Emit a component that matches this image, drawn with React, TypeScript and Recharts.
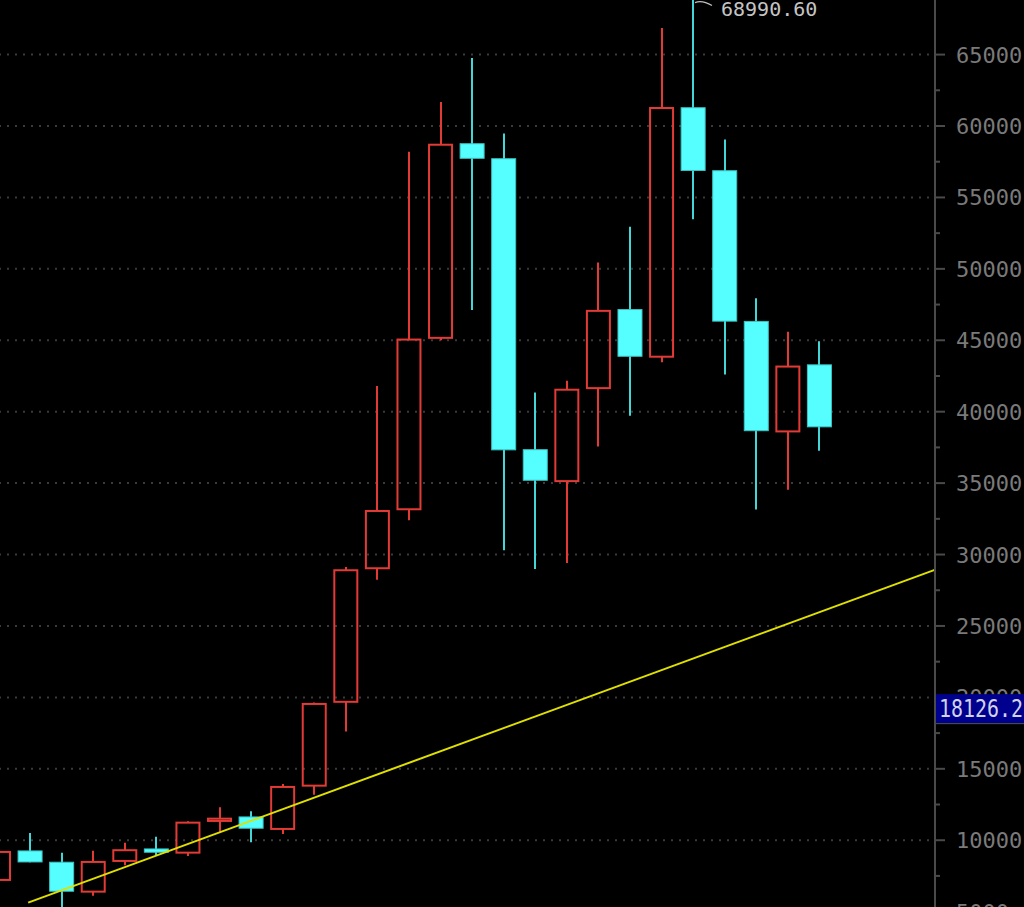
import { Bar, CartesianGrid, ComposedChart, ReferenceLine, XAxis, YAxis } from "recharts";

// Monthly candles, Jan 2020 .. Mar 2022.
const months = [
  "2020-01", "2020-02", "2020-03", "2020-04", "2020-05", "2020-06", "2020-07", "2020-08", "2020-09",
  "2020-10", "2020-11", "2020-12", "2021-01", "2021-02", "2021-03", "2021-04", "2021-05", "2021-06",
  "2021-07", "2021-08", "2021-09", "2021-10", "2021-11", "2021-12", "2022-01", "2022-02", "2022-03",
];
const opens = [
  7150, 9250, 8460, 6330, 8480, 9390, 9060, 11280, 11630, 10720, 13750, 19620, 28970, 33100,
  45100, 58760, 57710, 37340, 35070, 41580, 47150, 43780, 61280, 56870, 46320, 38550, 43280,
];
const highs = [
  9320, 10510, 9130, 9270, 9830, 10250, 11330, 12310, 12030, 13940, 19650, 29120, 41800, 58200,
  61680, 64760, 59470, 41340, 42160, 50450, 52940, 66870, 68990.6, 59050, 47940, 45600, 44930,
];
const lows = [
  6870, 8460, 3850, 6120, 8250, 8970, 8900, 10600, 9860, 10440, 13190, 17620, 28240, 32400,
  45000, 47120, 30300, 28980, 29400, 37570, 39720, 43460, 53480, 42610, 33150, 34540, 37270,
];
const closes = [
  9250, 8480, 6430, 8550, 9370, 9160, 11300, 11580, 10840, 13800, 19610, 28970, 33120, 45120,
  58760, 57740, 37330, 35200, 41610, 47130, 43880, 61330, 56890, 46340, 38670, 43230, 38940,
];

const axisTicks = [
  5000, 7500, 10000, 12500, 15000, 17500, 20000, 22500, 25000, 27500, 30000, 32500, 35000,
  37500, 40000, 42500, 45000, 47500, 50000, 52500, 55000, 57500, 60000, 62500, 65000,
];
const gridValues = [5000, 10000, 15000, 20000, 25000, 30000, 35000, 40000, 45000, 50000, 55000, 60000, 65000];
const yDomain = [5325, 68822];

// trend line: two anchor points (slot position, price)
const trendSlots = [0.93, 29.64];
const trendPrices = [5630, 28930];
const cursorPrice = 18126.2;

const data = months.map((month, i) => ({
  month,
  slot: i,
  open: opens[i],
  high: highs[i],
  low: lows[i],
  close: closes[i],
}));
const maxHigh = Math.max(...highs);

const RED = "#e23b36";
const CYAN = "#55ffff";
const CYAN_WICK = "#44d6d6";
const MONO = "'DejaVu Sans Mono', 'Liberation Mono', monospace";

function Candle(props: any) {
  const { x, y, width, height, payload } = props;
  const { open, close, high, low } = payload;
  const top = Math.max(open, close);
  const bottom = Math.min(open, close);
  // body pixels come from the bar's own scale; wicks extend it linearly
  const perUnit = height / (top - bottom);
  const py = (v: number) => y + (top - v) * perUnit;
  const cx = Math.round(x + width / 2);
  const up = close >= open;
  const yHigh = py(high);
  const yLow = py(low);
  return (
    <g>
      {up ? (
        <g>
          <line x1={cx} x2={cx} y1={yHigh} y2={y + 1} stroke={RED} strokeWidth={2} />
          <line x1={cx} x2={cx} y1={y + height - 1} y2={yLow} stroke={RED} strokeWidth={2} />
          <rect x={x + 1} y={y + 1} width={width - 2} height={Math.max(height - 2, 0.5)} fill="none" stroke={RED} strokeWidth={2} />
        </g>
      ) : (
        <g>
          <line x1={cx} x2={cx} y1={yHigh} y2={yLow} stroke={CYAN_WICK} strokeWidth={2} />
          <rect x={x + 0.5} y={y} width={width - 1} height={Math.max(height, 1)} fill={CYAN} stroke="#3cc4c4" strokeWidth={1} />
        </g>
      )}
      {high === maxHigh && (
        <g>
          <path d={`M${cx + 2},${yHigh + 5} Q${cx + 9},${yHigh + 2} ${cx + 19},${yHigh + 8}`} fill="none" stroke="#c0c0c0" strokeWidth={1.2} />
          <text x={cx + 28} y={yHigh + 18.5} fontFamily={MONO} fontSize={20} fill="#c4c4c4">
            {high.toFixed(2)}
          </text>
        </g>
      )}
    </g>
  );
}

function AxisTick(props: any) {
  const { x, y, payload } = props;
  const major = payload.value % 5000 === 0;
  return (
    <g>
      <line x1={x - 21} x2={x - 21 + (major ? 10 : 5)} y1={y} y2={y} stroke="#4a4a4a" strokeWidth={2} />
      {major && (
        <text x={x} y={y + 8} fontFamily={MONO} fontSize={22} fill="#7a7a7a">
          {payload.value}
        </text>
      )}
    </g>
  );
}

// price box sitting on the right axis, drawn as the single tick of a mirrored axis
function CursorTick(props: any) {
  const { x, y } = props;
  const left = x + 1;
  const bottom = y - 1;
  return (
    <g>
      <rect x={left} y={bottom - 29} width={100} height={29} fill="#00008e" />
      <line x1={left} x2={left + 100} y1={bottom + 0.5} y2={bottom + 0.5} stroke="#555" strokeWidth={1} />
      <text x={left + 3} y={bottom - 6} fontFamily={MONO} fontSize={24} fill="#d2d2ea" textLength={84} lengthAdjust="spacingAndGlyphs">
        {cursorPrice.toFixed(1)}
      </text>
    </g>
  );
}

export default function App() {
  return (
    <div style={{ position: "absolute", left: 0, top: 0, width: 1024, height: 907, overflow: "hidden", background: "#000" }}>
      <div style={{ position: "absolute", left: -17, top: 0 }}>
        <ComposedChart width={1041} height={907} data={data} margin={{ top: 0, right: 0, bottom: 0, left: 0 }}>
          <XAxis dataKey="month" hide padding={{ left: 0, right: 99.5 }} />
          <XAxis xAxisId="t" dataKey="slot" type="number" domain={[-0.5, 29.65]} hide allowDataOverflow />
          <YAxis
            orientation="right"
            width={89}
            type="number"
            domain={yDomain}
            allowDataOverflow
            ticks={axisTicks}
            interval={0}
            tickSize={10}
            tickMargin={11}
            tickLine={false}
            axisLine={{ stroke: "#4a4a4a", strokeWidth: 2 }}
            tick={(p: any) => <AxisTick {...p} />}
          />
          <YAxis
            yAxisId="cursor"
            dataKey="close"
            orientation="right"
            mirror
            type="number"
            domain={yDomain}
            allowDataOverflow
            ticks={[cursorPrice]}
            interval={0}
            tickSize={0}
            tickMargin={0}
            tickLine={false}
            axisLine={false}
            tick={(p: any) => <CursorTick {...p} />}
          />
          <CartesianGrid horizontal vertical={false} horizontalValues={gridValues} stroke="#3a3a3a" strokeWidth={2} strokeDasharray="2 6" />
          <Bar
            dataKey={(d: any) => [Math.min(d.open, d.close), Math.max(d.open, d.close)]}
            barSize={25}
            shape={(p: any) => <Candle {...p} />}
            isAnimationActive={false}
          />
          <ReferenceLine
            xAxisId="t"
            segment={[
              { x: trendSlots[0], y: trendPrices[0] },
              { x: trendSlots[1], y: trendPrices[1] },
            ]}
            stroke="#e0e000"
            strokeWidth={2}
            ifOverflow="visible"
          />
        </ComposedChart>
      </div>
    </div>
  );
}
